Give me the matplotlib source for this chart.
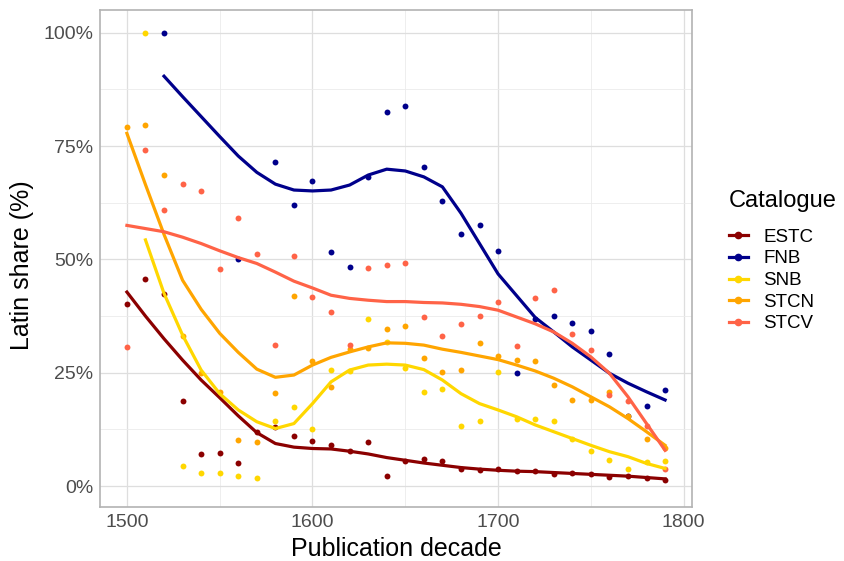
import numpy as np
import matplotlib
matplotlib.use("Agg")
import matplotlib.pyplot as plt
from matplotlib.lines import Line2D
from matplotlib.ticker import MultipleLocator, FuncFormatter

plt.rcParams["font.family"] = ["Liberation Sans", "DejaVu Sans"]

nan = np.nan
decades = list(range(1500, 1800, 10))
catalogues = ["ESTC", "FNB", "SNB", "STCN", "STCV"]
colors = {"ESTC": "#8B0000", "FNB": "#00008B", "SNB": "#FFD700",
          "STCN": "#FFA500", "STCV": "#FF6347"}

# observed Latin share per decade (%)
estc_pts = [40.1, 45.6, 42.3, 18.8, 7.1, 7.3, 5.2, 12.0, 13.1, 11.0,
            9.9, 9.0, 7.7, 9.8, 2.2, 5.6, 5.9, 5.6, 3.7, 3.5,
            3.7, 3.3, 3.4, 2.6, 2.9, 2.6, 2.1, 2.2, 1.7, 1.3]
fnb_pts = [nan, nan, 100.0, nan, nan, nan, 50.2, nan, 71.5, 62.1,
           67.4, 51.7, 48.4, 68.2, 82.5, 83.8, 70.3, 62.9, 55.7, 57.6,
           51.9, 25.0, 36.8, 37.6, 36.0, 34.2, 29.1, 15.4, 17.6, 21.3]
snb_pts = [nan, 100.0, nan, 4.5, 2.8, 2.8, 2.3, 1.8, 14.3, 17.4,
           12.6, 25.6, 25.5, 36.8, 31.8, 26.0, 20.8, 21.5, 13.2, 14.3,
           25.2, 14.9, 14.7, 14.4, 10.3, 7.8, 5.7, 3.7, 5.4, 5.5]
stcn_pts = [79.2, 79.7, 68.6, 33.1, 24.9, 20.8, 10.1, 9.8, 20.6, 41.9,
            27.5, 21.9, 30.2, 30.5, 34.6, 35.4, 28.2, 25.1, 25.6, 31.6,
            28.7, 27.8, 27.6, 22.4, 19.1, 19.1, 20.8, 15.5, 10.4, 8.5]
stcv_pts = [30.6, 74.2, 61.0, 66.7, 65.0, 47.8, 59.1, 51.3, 31.1, 50.7,
            41.8, 38.3, 31.1, 48.0, 48.8, 49.1, 37.3, 33.1, 35.7, 37.5,
            40.5, 30.9, 41.4, 43.2, 33.5, 30.0, 20.0, 18.8, 13.2, 3.7]

# smoothed trend (%)
estc_fit = [42.8, 37.5, 32.5, 27.8, 23.4, 19.5, 15.5, 11.8, 9.4, 8.6,
            8.3, 8.2, 7.7, 7.1, 6.3, 5.7, 5.1, 4.6, 4.1, 3.75,
            3.5, 3.3, 3.2, 3.0, 2.8, 2.6, 2.4, 2.2, 1.9, 1.6]
fnb_fit = [nan, nan, 90.4, 85.9, 81.5, 77.1, 72.8, 69.2, 66.6, 65.3,
           65.1, 65.3, 66.4, 68.6, 69.9, 69.5, 68.2, 66.0, 60.2, 53.5,
           46.8, 42.0, 37.2, 34.0, 30.7, 27.8, 24.9, 22.7, 20.8, 19.0]
snb_fit = [nan, 54.3, 42.5, 33.3, 25.6, 20.4, 16.8, 14.2, 12.7, 13.8,
           18.2, 23.0, 25.6, 26.7, 26.9, 26.7, 25.7, 23.4, 20.4, 18.2,
           16.8, 15.3, 13.5, 12.0, 10.5, 9.0, 7.6, 6.5, 5.0, 3.9]
stcn_fit = [77.8, 66.5, 55.5, 45.4, 39.0, 33.7, 29.5, 25.8, 24.0, 24.5,
            26.7, 28.4, 29.6, 30.7, 31.6, 31.5, 31.1, 30.2, 29.5, 28.7,
            27.9, 26.7, 25.4, 23.8, 21.9, 19.7, 17.5, 14.9, 12.0, 9.0]
stcv_fit = [57.5, 56.8, 56.1, 54.9, 53.5, 51.9, 50.4, 49.1, 47.2, 45.2,
            43.7, 42.1, 41.4, 41.0, 40.7, 40.7, 40.5, 40.4, 40.1, 39.6,
            38.8, 37.3, 35.8, 34.0, 31.5, 28.5, 24.9, 19.7, 13.8, 7.9]

points = {"ESTC": estc_pts, "FNB": fnb_pts, "SNB": snb_pts,
          "STCN": stcn_pts, "STCV": stcv_pts}
fits = {"ESTC": estc_fit, "FNB": fnb_fit, "SNB": snb_fit,
        "STCN": stcn_fit, "STCV": stcv_fit}

fig = plt.figure(figsize=(8.44, 5.61), dpi=100)
ax = fig.add_axes([100 / 844, 54 / 561, 592 / 844, 497 / 561])

for cat in catalogues:
    ax.scatter(decades, points[cat], s=18, color=colors[cat], linewidths=0, zorder=3)
for cat in catalogues:
    ax.plot(decades, fits[cat], color=colors[cat], lw=2.3, zorder=4,
            solid_joinstyle="round")

ax.set_xlim(1485.5, 1804.5)
ax.set_ylim(-4.6, 105)
ax.xaxis.set_major_locator(MultipleLocator(100))
ax.xaxis.set_minor_locator(MultipleLocator(50))
ax.yaxis.set_major_locator(MultipleLocator(25))
ax.yaxis.set_minor_locator(MultipleLocator(12.5))
ax.yaxis.set_major_formatter(FuncFormatter(lambda v, p: f"{v:.0f}%"))

ax.grid(True, which="major", color="#DEDEDE", lw=0.9)
ax.grid(True, which="minor", color="#EBEBEB", lw=0.6)
ax.set_axisbelow(True)
for s in ax.spines.values():
    s.set_color("#B3B3B3")
    s.set_linewidth(1.2)
ax.tick_params(which="both", length=0, labelsize=14, labelcolor="#4D4D4D")
ax.tick_params(axis="x", pad=5)
ax.tick_params(axis="y", pad=5)

ax.set_xlabel("Publication decade", fontsize=18, va="center")
ax.xaxis.set_label_coords(0.5, (12 - 54) / 497)
ax.set_ylabel("Latin share (%)", fontsize=18, va="center")
ax.yaxis.set_label_coords((22 - 100) / 592, (296 - 54) / 497)

# legend: title as its own text, keys below it
fig.text(729 / 844, 1 - 201 / 561, "Catalogue", fontsize=17, ha="left", va="center")
handles = [Line2D([0], [0], color=colors[c], lw=2.3, marker="o", markersize=4.5)
           for c in catalogues]
fig.legend(handles, catalogues, loc="center left",
           bbox_to_anchor=(712 / 844, 1 - 280.5 / 561), frameon=False,
           fontsize=13.5, handlelength=1.0, handletextpad=0.85,
           labelspacing=0.24)

fig.savefig("out.png", dpi=100)
